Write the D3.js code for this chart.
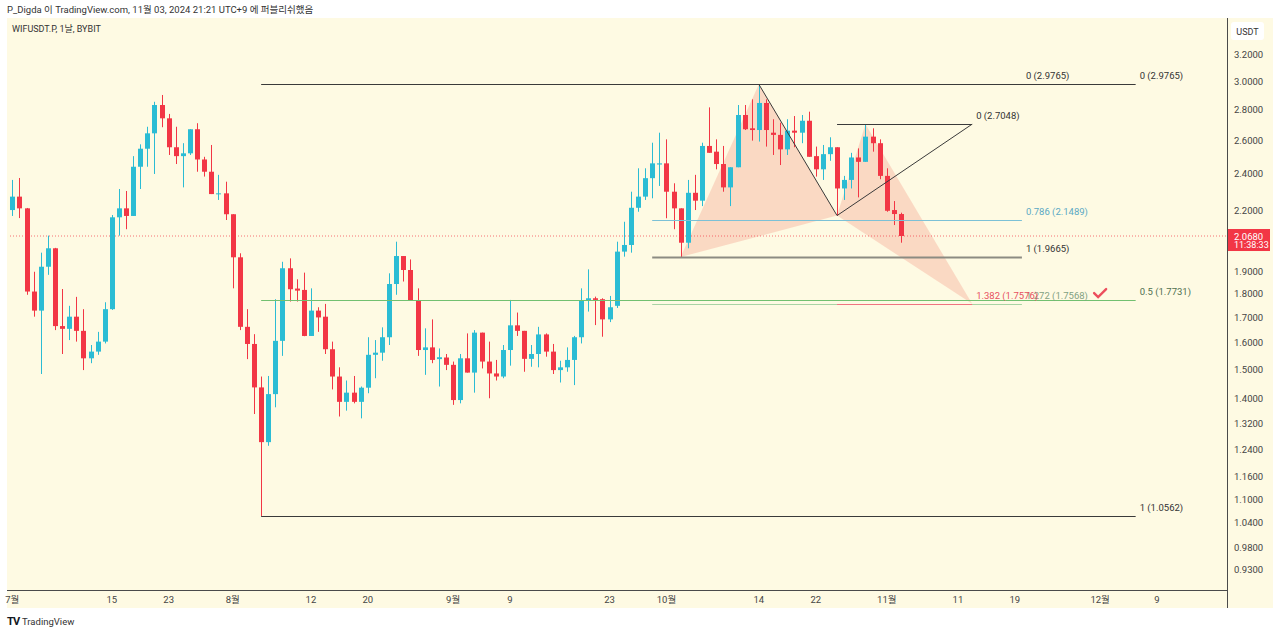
<!doctype html>
<html>
<head>
<meta charset="UTF-8">
<title>WIFUSDT.P 1D</title>
<script src="https://cdn.jsdelivr.net/npm/d3@7"></script>
<style>
  body { margin: 0; background: #fff; }
  svg { display: block; font-family: Roboto, "Noto Sans CJK KR", sans-serif; }
</style>
</head>
<body>
<svg id="chart" width="1280" height="634"></svg>
<script>
// daily candles, first one is Jun 30 2024 (cut by the left edge)
const firstDay = new Date(2024, 5, 30);
const openP = [2.150,2.201,2.273,2.210,1.810,1.729,1.921,2.008,1.666,1.655,1.704,1.647,1.542,1.567,1.605,1.735,2.163,2.210,2.170,2.442,
  2.550,2.646,2.832,2.743,2.559,2.505,2.522,2.672,2.485,2.413,2.287,2.291,2.179,1.965,1.663,1.596,1.438,1.261,1.415,1.608,
  1.914,1.823,1.817,1.627,1.729,1.704,1.576,1.476,1.389,1.420,1.389,1.437,1.555,1.563,1.622,1.843,1.971,1.906,1.771,1.573,
  1.583,1.539,1.545,1.518,1.395,1.542,1.490,1.640,1.530,1.487,1.476,1.573,1.669,1.647,1.540,1.558,1.633,1.567,1.499,1.509,
  1.536,1.622,1.771,1.781,1.777,1.693,1.749,1.992,2.024,2.213,2.273,2.376,2.455,2.462,2.300,2.210,2.035,2.294,2.251,2.567,
  2.532,2.458,2.324,2.439,2.765,2.678,2.667,2.846,2.650,2.636,2.546,2.663,2.650,2.727,2.505,2.427,2.517,2.559,2.318,2.366,
  2.497,2.471,2.625,2.584,2.389,2.201,2.180];
const highP = [2.205,2.366,2.377,2.212,1.898,1.987,2.070,2.010,1.821,1.749,1.787,1.735,1.592,1.643,1.764,2.175,2.315,2.304,2.505,2.577,
  2.688,2.854,2.901,2.772,2.688,2.584,2.672,2.711,2.501,2.573,2.395,2.356,2.179,1.984,1.735,1.634,1.476,1.478,1.777,1.944,
  1.960,1.864,1.894,1.824,1.743,1.757,1.605,1.509,1.462,1.478,1.441,1.622,1.611,1.661,1.891,2.040,1.971,1.955,1.824,1.657,
  1.693,1.579,1.558,1.530,1.558,1.637,1.650,1.640,1.605,1.536,1.592,1.774,1.721,1.647,1.592,1.663,1.637,1.596,1.533,1.583,
  1.627,1.824,1.909,1.788,1.781,1.791,2.040,2.140,2.300,2.433,2.433,2.587,2.650,2.608,2.347,2.210,2.366,2.395,2.587,2.816,
  2.608,2.567,2.439,2.832,2.832,2.871,2.9765,2.871,2.737,2.714,2.737,2.758,2.765,2.787,2.563,2.573,2.621,2.559,2.389,2.525,
  2.552,2.7048,2.678,2.608,2.433,2.249,2.187];
const lowP = [2.093,2.170,2.159,1.796,1.704,1.485,1.884,1.650,1.558,1.611,1.605,1.499,1.524,1.555,1.598,1.732,2.070,2.102,2.170,2.315,
  2.442,2.400,2.685,2.512,2.458,2.324,2.512,2.413,2.385,2.287,2.255,2.149,1.824,1.650,1.539,1.349,1.0562,1.250,1.371,1.551,
  1.767,1.767,1.626,1.627,1.643,1.558,1.431,1.341,1.360,1.384,1.335,1.418,1.470,1.533,1.592,1.796,1.854,1.771,1.551,1.482,
  1.524,1.441,1.499,1.379,1.384,1.490,1.420,1.505,1.401,1.462,1.470,1.515,1.627,1.493,1.511,1.509,1.548,1.485,1.455,1.493,
  1.446,1.598,1.725,1.670,1.624,1.682,1.740,1.968,1.987,2.192,2.255,2.264,2.332,2.158,2.102,1.9665,2.008,2.201,2.222,2.525,
  2.427,2.300,2.222,2.439,2.667,2.600,2.594,2.563,2.512,2.452,2.512,2.559,2.584,2.501,2.385,2.366,2.477,2.172,2.255,2.318,
  2.269,2.471,2.532,2.370,2.192,2.123,2.035];
const closeP = [2.190,2.273,2.210,1.810,1.729,1.921,2.008,1.666,1.655,1.704,1.647,1.542,1.567,1.605,1.735,2.163,2.210,2.170,2.442,2.550,
  2.646,2.832,2.743,2.559,2.505,2.522,2.672,2.485,2.413,2.287,2.291,2.179,1.965,1.663,1.596,1.438,1.261,1.415,1.608,1.914,
  1.820,1.814,1.627,1.729,1.701,1.576,1.476,1.389,1.420,1.389,1.437,1.555,1.563,1.622,1.843,1.971,1.906,1.771,1.573,1.583,
  1.536,1.546,1.518,1.395,1.542,1.490,1.640,1.530,1.487,1.476,1.573,1.669,1.647,1.540,1.558,1.633,1.567,1.499,1.509,1.536,
  1.622,1.771,1.781,1.774,1.693,1.743,1.992,2.024,2.213,2.273,2.376,2.462,2.462,2.300,2.210,2.035,2.294,2.251,2.567,2.525,
  2.458,2.324,2.439,2.765,2.672,2.667,2.846,2.667,2.636,2.546,2.663,2.650,2.727,2.501,2.427,2.517,2.559,2.318,2.366,2.497,
  2.471,2.625,2.584,2.389,2.197,2.180,2.068];

const priceTicks = [3.2, 3.0, 2.8, 2.6, 2.4, 2.2, 1.9, 1.8, 1.7, 1.6, 1.5, 1.4, 1.32, 1.24, 1.16, 1.1, 1.04, 0.98, 0.93];
const timeTicks = [["2024-07-01","7월"],["2024-07-15","15"],["2024-07-23","23"],["2024-08-01","8월"],["2024-08-12","12"],
  ["2024-08-20","20"],["2024-09-01","9월"],["2024-09-09","9"],["2024-09-23","23"],["2024-10-01","10월"],["2024-10-14","14"],
  ["2024-10-22","22"],["2024-11-01","11월"],["2024-11-11","11"],["2024-11-19","19"],["2024-12-01","12월"],["2024-12-09","9"]];
const lastPrice = 2.068;

// fib tools: [start date, end date, level text, price]
const fibBig = [["2024-08-05","2024-12-06","0",2.9765],["2024-08-05","2024-12-06","0.5",1.7731],["2024-08-05","2024-12-06","1",1.0562]];
const fibMid = [["2024-09-29","2024-11-20","0",2.9765],["2024-09-29","2024-11-20","0.786",2.1489],["2024-09-29","2024-11-20","1",1.9665],["2024-09-29","2024-11-20","1.272",1.7568]];
const fibSmall = [["2024-10-25","2024-11-13","0",2.7048],["2024-10-25","2024-11-13","1.382",1.7576]];
// pattern points X A B C D
const patDates = ["2024-10-03","2024-10-14","2024-10-25","2024-10-29","2024-11-13"];
const patPrices = [1.9665, 2.9765, 2.172, 2.7048, 1.7576];

const parse = d3.timeParse("%Y-%m-%d");
const svg = d3.select("#chart");
const L = 7, R = 1227, T = 18, B = 590;

const x = d3.scaleTime().domain([parse("2024-07-01"), parse("2024-12-09")]).range([12.3, 1157]);
const y = d3.scaleLog().domain([0.93, 3.0]).range([569, 81]);

const candles = openP.map((o, i) => ({
  date: d3.timeDay.offset(firstDay, i), o, h: highP[i], l: lowP[i], c: closeP[i]
}));

// panel
svg.append("rect").attr("x", L).attr("y", T).attr("width", 1266).attr("height", 590).attr("fill", "#fefae3");
svg.append("defs").append("clipPath").attr("id", "plot")
  .append("rect").attr("x", L + 1).attr("y", T).attr("width", R - L - 1).attr("height", B - T);

const plot = svg.append("g").attr("clip-path", "url(#plot)");

// pattern fills
const tri = (idx) => idx.map(k => [x(parse(patDates[k])), y(patPrices[k])]);
plot.selectAll("path.pat").data([tri([0, 1, 2]), tri([2, 3, 4])]).join("path")
  .attr("class", "pat")
  .attr("d", d => d3.line()(d) + "Z")
  .attr("fill", "rgba(242,128,112,0.27)");

// current price line
plot.append("line").attr("x1", L).attr("x2", R).attr("y1", y(lastPrice)).attr("y2", y(lastPrice))
  .attr("stroke", "#f23645").attr("stroke-opacity", 0.7).attr("stroke-dasharray", "1,2");

// candles
const up = "#2bbcd4", down = "#f23645";
const cg = plot.selectAll("g.c").data(candles).join("g").attr("class", "c");
cg.append("line")
  .attr("x1", d => Math.round(x(d.date)) + 0.5).attr("x2", d => Math.round(x(d.date)) + 0.5)
  .attr("y1", d => y(d.h)).attr("y2", d => y(d.l))
  .attr("stroke", d => d.c >= d.o ? up : down);
cg.append("rect")
  .attr("x", d => Math.round(x(d.date)) - 2)
  .attr("width", 5)
  .attr("y", d => y(Math.max(d.o, d.c)))
  .attr("height", d => Math.max(1, Math.abs(y(d.o) - y(d.c))))
  .attr("fill", d => d.c >= d.o ? up : down);

// fib lines
const levelStyle = {
  "0": ["#3a3a3a", 1, "#333"], "0.5": ["#72c070", 1, "#4f6f4f"], "1": ["#3a3a3a", 1, "#333"],
  "0.786": ["#7cc1d6", 1, "#5aa9c4"], "1.272": ["#a9d3a4", 1, "#82a182"], "1.382": ["#f07480", 1, "#e8505f"]
};
function drawFib(levels, key) {
  levels.forEach(([s, e, lv, p]) => {
    let st = levelStyle[lv];
    if (key === "mid" && lv === "1") st = ["#8c8b82", 2, "#333"];
    const x1 = x(parse(s)), x2 = x(parse(e)), yy = Math.round(y(p)) + 0.5;
    plot.append("line").attr("x1", x1).attr("x2", x2).attr("y1", yy).attr("y2", yy)
      .attr("stroke", st[0]).attr("stroke-width", st[1]);
    plot.append("text").attr("x", x2 + 4).attr("y", yy - 6)
      .attr("font-size", 9.5).attr("fill", st[2]).text(`${lv} (${p.toFixed(4)})`);
  });
}
drawFib(fibBig, "big");
drawFib(fibMid, "mid");
drawFib(fibSmall, "small");

// trend legs
const P = tri([0, 1, 2, 3, 4]);
plot.append("line").attr("x1", P[1][0]).attr("y1", P[1][1]).attr("x2", P[2][0]).attr("y2", P[2][1])
  .attr("stroke", "#3a3a3a");
plot.append("line").attr("x1", P[2][0]).attr("y1", P[2][1])
  .attr("x2", x(parse(fibSmall[0][1]))).attr("y2", y(fibSmall[0][3])).attr("stroke", "#3a3a3a");

// check mark
const ckx = x(parse("2024-12-01")), cky = y(1.7731) - 6;
plot.append("path")
  .attr("d", `M${ckx - 6},${cky - 1} L${ckx - 2},${cky + 3} L${ckx + 6},${cky - 5}`)
  .attr("fill", "none").attr("stroke", "#ec4d5c").attr("stroke-width", 2.4).attr("stroke-linecap", "round");

// axes frame
svg.append("line").attr("x1", L).attr("x2", R).attr("y1", B + 0.5).attr("y2", B + 0.5).attr("stroke", "#4a4a4a");
svg.append("line").attr("x1", R + 0.5).attr("x2", R + 0.5).attr("y1", T).attr("y2", 608).attr("stroke", "#4a4a4a");

// price axis
svg.append("g").selectAll("text").data(priceTicks).join("text")
  .attr("x", 1234).attr("y", d => y(d) + 3.5)
  .attr("font-size", 9.5).attr("fill", "#444").text(d => d.toFixed(4));

// time axis
svg.append("g").selectAll("text").data(timeTicks).join("text")
  .attr("x", d => x(parse(d[0]))).attr("y", 603).attr("text-anchor", "middle")
  .attr("font-size", 9.5).attr("fill", "#444").text(d => d[1]);

// USDT box
svg.append("rect").attr("x", 1231).attr("y", 22).attr("width", 33).attr("height", 18).attr("rx", 3).attr("fill", "#fff");
svg.append("text").attr("x", 1247.5).attr("y", 34.5).attr("text-anchor", "middle").attr("font-size", 9).attr("fill", "#333").text("USDT");

// last price label
const ly = y(lastPrice);
svg.append("rect").attr("x", 1228).attr("y", ly - 7).attr("width", 42).attr("height", 22).attr("fill", "#f23645");
svg.append("text").attr("x", 1234).attr("y", ly + 3.5).attr("font-size", 9.5).attr("fill", "#fff").text(lastPrice.toFixed(4));
svg.append("text").attr("x", 1234).attr("y", ly + 12).attr("font-size", 9).attr("fill", "#fff").text("11:38:33");

// titles
svg.append("text").attr("x", 7).attr("y", 13).attr("font-size", 9.5).attr("fill", "#333")
  .text("P_Digda 이 TradingView.com, 11월 03, 2024 21:21 UTC+9 에 퍼블리쉬했음");
svg.append("text").attr("x", 12).attr("y", 32).attr("font-size", 9).attr("fill", "#333")
  .text("WIFUSDT.P, 1날, BYBIT");

// footer logo
svg.append("text").attr("x", 7).attr("y", 625).attr("font-size", 11).attr("font-weight", "bold")
  .attr("fill", "#131722").attr("letter-spacing", -1).text("TV");
svg.append("text").attr("x", 22).attr("y", 625).attr("font-size", 9.5).attr("fill", "#333").text("TradingView");
</script>
</body>
</html>
